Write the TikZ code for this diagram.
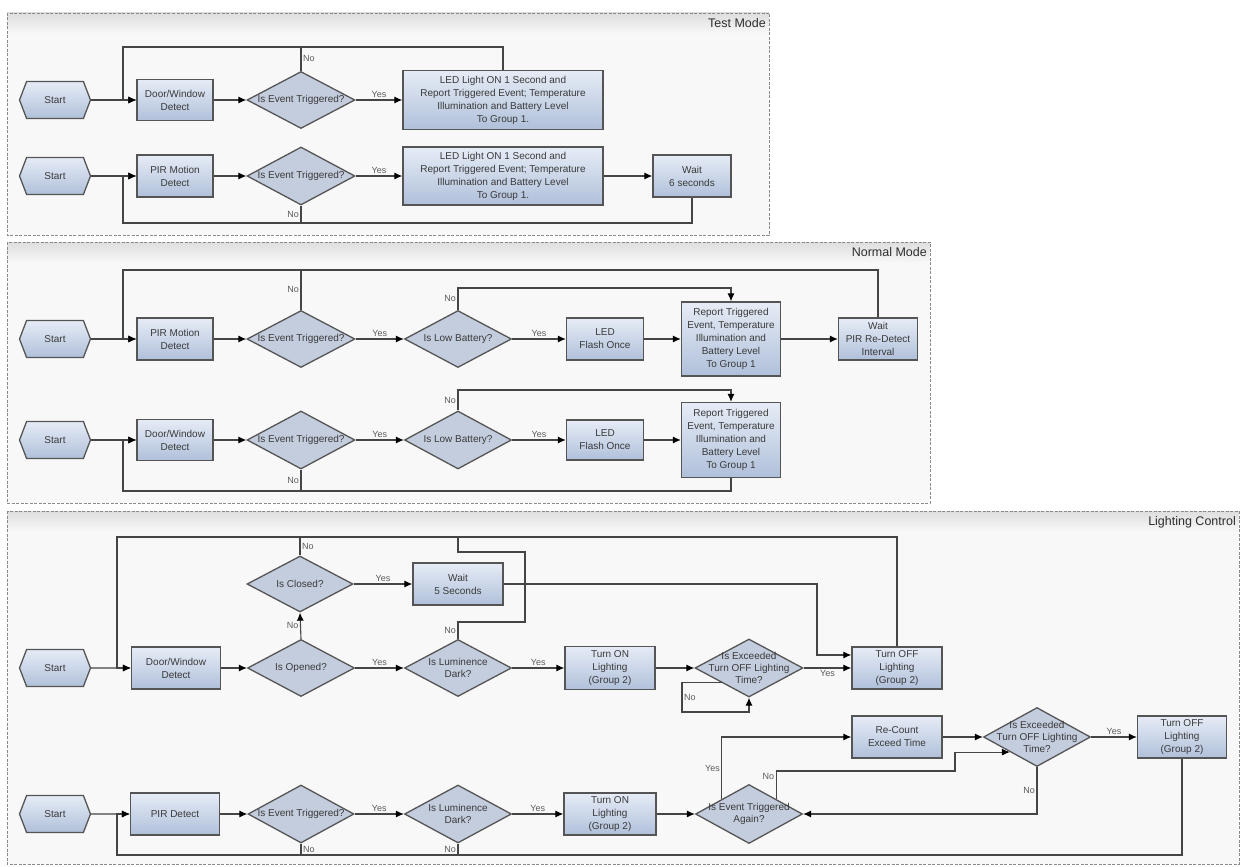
\documentclass[tikz,border=0pt]{standalone}
\usepackage{fontspec}
\setmainfont{Liberation Sans}
\usetikzlibrary{shapes.geometric,shapes.symbols,arrows.meta}
\definecolor{edgec}{HTML}{454545}
\definecolor{bordc}{HTML}{555555}
\definecolor{boxtop}{HTML}{E6ECF6}
\definecolor{boxbot}{HTML}{B0C0DA}
\definecolor{diafill}{HTML}{C4CDDE}
\definecolor{txtc}{HTML}{3A3A3A}
\definecolor{lblc}{HTML}{5C5C5C}
\definecolor{framebg}{HTML}{F8F8F8}
\definecolor{headtop}{HTML}{DEDEDE}
\definecolor{frameline}{HTML}{8A8A8A}
\definecolor{titlec}{HTML}{2E2E2E}
\tikzset{
  base/.style={draw=bordc, line width=1.3pt, text=txtc, font=\fontsize{10}{13}\selectfont, align=center, inner sep=1pt},
  box/.style={base, rectangle, top color=boxtop, bottom color=boxbot},
  dia/.style={base, diamond, fill=diafill, inner sep=0pt},
  dtext/.style={text=txtc, font=\fontsize{10}{12}\selectfont, align=center, inner sep=0pt},
  startn/.style={base, signal, signal from=nowhere, signal to=east and west, signal pointer angle=138, top color=boxtop, bottom color=boxbot, minimum width=71, minimum height=37},
  arr/.style={draw=edgec, line width=1.1pt, -{Latex[length=8pt,width=7pt,color=black]}},
  ln/.style={draw=edgec, line width=1.1pt},
  lbl/.style={text=lblc, font=\fontsize{9}{10}\selectfont, inner sep=1.5pt},
  frameb/.style={draw=frameline, line width=0.8pt, dash pattern=on 3pt off 1.5pt},
  titlen/.style={text=titlec, font=\fontsize{12.5}{14}\selectfont, anchor=east, inner sep=0pt},
}
\begin{document}
\begin{tikzpicture}[x=1pt,y=-1pt]
\useasboundingbox (0,0) rectangle (1243,867);
\fill[white] (0,0) rectangle (1243,867);

% ---------- frames ----------
\fill[framebg] (7,13) rectangle (769,235);
\shade[top color=headtop, bottom color=framebg] (7,13) rectangle (769,34);
\draw[frameb] (7,13) rectangle (769,235);
\node[titlen] (t1) at (766,23) {Test Mode};

\fill[framebg] (7,242) rectangle (930,503);
\shade[top color=headtop, bottom color=framebg] (7,242) rectangle (930,263);
\draw[frameb] (7,242) rectangle (930,503);
\node[titlen] (t2) at (927,252) {Normal Mode};

\fill[framebg] (7,511) rectangle (1239,864);
\shade[top color=headtop, bottom color=framebg] (7,511) rectangle (1239,532);
\draw[frameb] (7,511) rectangle (1239,864);
\node[titlen] (t3) at (1236,522) {Lighting Control};

% ---------- Test Mode ----------
\node[startn] (s1) at (55,100) {Start};
\node[box, minimum width=76, minimum height=41] (b1) at (175,100) {Door/Window\\Detect};
\node[dia, minimum width=108, minimum height=57, label={[dtext]center:Is Event Triggered?}] (d1) at (301,100) {};
\node[box, minimum width=200, minimum height=59] (led1) at (503,100) {LED Light ON 1 Second and\\Report Triggered Event; Temperature\\Illumination and Battery Level\\To Group 1.};
\coordinate (j1) at (301,47);

\draw[arr] (s1) -- (b1);
\draw[arr] (b1) -- (d1);
\draw[arr] (d1) -- node[lbl, above] {Yes} (led1);
\draw[arr] (led1.north) |- (123,47) |- (b1.west);
\draw[ln] (d1.north) -- node[lbl, right] {No} (j1);

\node[startn] (s2) at (55,176) {Start};
\node[box, minimum width=76, minimum height=42] (b2) at (175,176) {PIR Motion\\Detect};
\node[dia, minimum width=108, minimum height=58, label={[dtext]center:Is Event Triggered?}] (d2) at (301,176) {};
\node[box, minimum width=200, minimum height=58] (led2) at (503,176) {LED Light ON 1 Second and\\Report Triggered Event; Temperature\\Illumination and Battery Level\\To Group 1.};
\node[box, minimum width=78, minimum height=42] (w2) at (692,176) {Wait\\6 seconds};
\coordinate (j2) at (301,223);

\draw[arr] (s2) -- (b2);
\draw[arr] (b2) -- (d2);
\draw[arr] (d2) -- node[lbl, above] {Yes} (led2);
\draw[arr] (led2) -- (w2);
\draw[arr] (w2.south) |- (123,223) |- (b2.west);
\draw[ln] (d2.south) -- node[lbl, left] {No} (j2);

% ---------- Normal Mode ----------
\node[startn] (s3) at (55,339) {Start};
\node[box, minimum width=76, minimum height=42] (b3) at (175,339) {PIR Motion\\Detect};
\node[dia, minimum width=108, minimum height=57, label={[dtext]center:Is Event Triggered?}] (d3) at (301,339) {};
\node[dia, minimum width=107, minimum height=57, label={[dtext]center:Is Low Battery?}] (d4) at (458,339) {};
\node[box, minimum width=77, minimum height=42] (led3) at (605,339) {LED\\Flash Once};
\node[box, minimum width=99, minimum height=74] (r3) at (731,339) {Report Triggered\\Event, Temperature\\Illumination and\\Battery Level\\To Group 1};
\node[box, minimum width=79, minimum height=42] (w3) at (878,339) {Wait\\PIR Re-Detect\\Interval};
\coordinate (j3) at (301,270);

\draw[arr] (s3) -- (b3);
\draw[arr] (b3) -- (d3);
\draw[arr] (d3) -- node[lbl, above] {Yes} (d4);
\draw[arr] (d4) -- node[lbl, above] {Yes} (led3);
\draw[arr] (led3) -- (r3);
\draw[arr] (r3) -- (w3);
\draw[arr] (d4.north) -- node[lbl, left] {No} (458,288) -| (r3.north);
\draw[arr] (w3.north) |- (123,270) |- (b3.west);
\draw[ln] (d3.north) -- node[lbl, left] {No} (j3);

\node[startn] (s4) at (55,440) {Start};
\node[box, minimum width=76, minimum height=41] (b4) at (175,440) {Door/Window\\Detect};
\node[dia, minimum width=108, minimum height=58, label={[dtext]center:Is Event Triggered?}] (d5) at (301,440) {};
\node[dia, minimum width=107, minimum height=58, label={[dtext]center:Is Low Battery?}] (d6) at (458,440) {};
\node[box, minimum width=77, minimum height=40] (led4) at (605,440) {LED\\Flash Once};
\node[box, minimum width=99, minimum height=75] (r4) at (731,440) {Report Triggered\\Event, Temperature\\Illumination and\\Battery Level\\To Group 1};
\coordinate (j5) at (301,491);

\draw[arr] (s4) -- (b4);
\draw[arr] (b4) -- (d5);
\draw[arr] (d5) -- node[lbl, above] {Yes} (d6);
\draw[arr] (d6) -- node[lbl, above] {Yes} (led4);
\draw[arr] (led4) -- (r4);
\draw[arr] (d6.north) -- node[lbl, left] {No} (458,390) -| (r4.north);
\draw[arr] (r4.south) |- (123,491) |- (b4.west);
\draw[ln] (d5.south) -- node[lbl, left] {No} (j5);

% ---------- Lighting Control ----------
\node[startn] (s5) at (55,668) {Start};
\node[box, minimum width=89, minimum height=42] (b5) at (176,668) {Door/Window\\Detect};
\node[dia, minimum width=107, minimum height=57, label={[dtext]center:Is Opened?}] (d7) at (301,668) {};
\node[dia, minimum width=106, minimum height=56, label={[dtext]center:Is Closed?}] (d8) at (300,584) {};
\node[box, minimum width=90, minimum height=42] (w5) at (458,584) {Wait\\5 Seconds};
\node[dia, minimum width=107, minimum height=57, label={[dtext]center:{Is Luminence\\Dark?}}] (d9) at (458,668) {};
\node[box, minimum width=90, minimum height=43] (on1) at (610,668) {Turn ON\\Lighting\\(Group 2)};
\node[dia, minimum width=108, minimum height=58, label={[dtext]center:{Is Exceeded\\Turn OFF Lighting\\Time?}}] (d10) at (749,668) {};
\node[box, minimum width=90, minimum height=42] (off1) at (897,668) {Turn OFF\\Lighting\\(Group 2)};
\coordinate (j8) at (300,537);
\coordinate (j9) at (458,537);

\draw[arr] (s5) -- (b5);
\draw[arr] (b5) -- (d7);
\draw[arr] (d7) -- node[lbl, above] {Yes} (d9);
\draw[arr] (d9) -- node[lbl, above] {Yes} (on1);
\draw[arr] (on1) -- (d10);
\draw[arr] (d10) -- node[lbl, below] {Yes} (off1);
\draw[arr] (d7.north) -- node[lbl, left] {No} (d8.south);
\draw[arr] (d8) -- node[lbl, above] {Yes} (w5);
\draw[arr] (off1.north) |- (117,537) |- (b5.west);
\draw[ln] (d8.north) -- node[lbl, right] {No} (j8);
\draw[ln] (d9.north) -- node[lbl, left] {No} (458,622) -- (525,622) -- (525,552) -- (458,552) -- (j9);
\draw[arr] (w5.east) -| (817,655) -- (off1.west |- 0,655);
\draw[arr] (d10.south west) -- (d10.south west -| 682,0) -- node[lbl, right] {No} (682,712) -| (d10.south);

\node[startn] (s6) at (55,814) {Start};
\node[box, minimum width=89, minimum height=42] (b6) at (175,814) {PIR Detect};
\node[dia, minimum width=106, minimum height=58, label={[dtext]center:Is Event Triggered?}] (d11) at (301,814) {};
\node[dia, minimum width=107, minimum height=58, label={[dtext]center:{Is Luminence\\Dark?}}] (d12) at (458,814) {};
\node[box, minimum width=92, minimum height=42] (on2) at (610,814) {Turn ON\\Lighting\\(Group 2)};
\node[dia, minimum width=107, minimum height=59, label={[dtext]center:{Is Event Triggered\\Again?}}] (d13) at (749,814) {};
\node[box, minimum width=90, minimum height=42] (rc) at (897,737) {Re-Count\\Exceed Time};
\node[dia, minimum width=107, minimum height=59, label={[dtext]center:{Is Exceeded\\Turn OFF Lighting\\Time?}}] (d14) at (1037,737) {};
\node[box, minimum width=89, minimum height=42] (off2) at (1182,737) {Turn OFF\\Lighting\\(Group 2)};
\coordinate (j11) at (301,855);
\coordinate (j12) at (458,855);

\draw[arr] (s6) -- (b6);
\draw[arr] (b6) -- (d11);
\draw[arr] (d11) -- node[lbl, above] {Yes} (d12);
\draw[arr] (d12) -- node[lbl, above] {Yes} (on2);
\draw[arr] (on2) -- (d13);
\draw[arr] (d13.north west) |- node[lbl, left, pos=0.25] {Yes} (rc.west);
\draw[arr] (d13.north east) |- node[lbl, left, pos=0.4] {No} (955,771) |- (d14.south west);
\draw[arr] (rc) -- (d14);
\draw[arr] (d14) -- node[lbl, above] {Yes} (off2);
\draw[arr] (d14.south) |- node[lbl, left, pos=0.25] {No} (d13.east);
\draw[arr] (off2.south) |- (117,855) |- (b6.west);
\draw[ln] (d11.south) -- node[lbl, right] {No} (j11);
\draw[ln] (d12.south) -- node[lbl, left] {No} (j12);
\end{tikzpicture}
\end{document}
